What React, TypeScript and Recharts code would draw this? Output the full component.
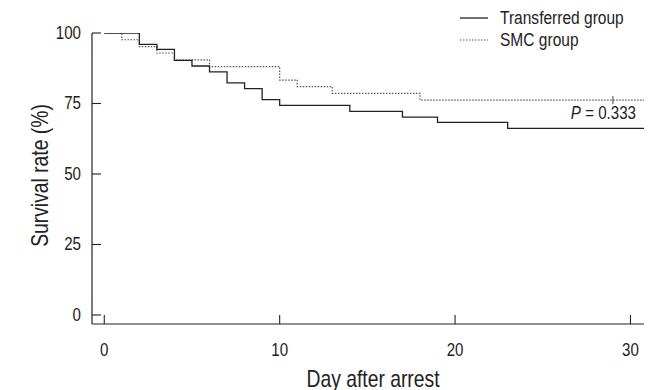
import React from 'react';
import { ComposedChart, Line, XAxis, YAxis, Scatter, Label } from 'recharts';

const transferredDays = [0, 2, 3, 4, 5, 6, 7, 8, 9, 10, 14, 17, 19, 23, 31];
const transferredSurvival = [100, 96, 94.2, 90.3, 88.3, 86.2, 82.3, 80.3, 76.4, 74.3, 72.2, 70.2, 68.3, 66.2, 66.2];
const smcDays = [0, 1, 2, 3, 4, 6, 10, 11, 13, 18, 31];
const smcSurvival = [100, 97.6, 95.2, 92.9, 90.5, 88.1, 83.3, 81.0, 78.6, 76.2, 76.2];
const censorDays = [29];
const censorSurvival = [76.2];
const xTicks = [0, 10, 20, 30];
const yTicks = [0, 25, 50, 75, 100];
const seriesNames = ['Transferred group', 'SMC group'];
const pValueText = '0.333';

const FONT = "'Liberation Sans', Arial, sans-serif";
const SX = 0.84;
const INK = '#222';

const transferredData = transferredDays.map((d, i) => ({ day: d, s: transferredSurvival[i] }));
const smcData = smcDays.map((d, i) => ({ day: d, s: smcSurvival[i] }));
const censorData = censorDays.map((d, i) => ({ day: d, s: censorSurvival[i] }));

const NText = (props: any) => {
  const { x, y, size, anchor = 'start', rotate = 0, children, italic } = props;
  return (
    <text
      x={0}
      y={0}
      transform={`translate(${x} ${y}) rotate(${rotate}) scale(${SX} 1)`}
      textAnchor={anchor}
      dominantBaseline="central"
      fontFamily={FONT}
      fontSize={size}
      fontStyle={italic ? 'italic' : 'normal'}
      fill={INK}
    >
      {children}
    </text>
  );
};

const YTick = (props: any) => {
  const { x, y, payload } = props;
  return (
    <g>
      <line x1={x} x2={x + 9} y1={y} y2={y} stroke={INK} strokeWidth={1.1} />
      <NText x={x - 11} y={y} size={18} anchor="end">{payload.value}</NText>
    </g>
  );
};

const XTick = (props: any) => {
  const { x, y, payload } = props;
  return (
    <g>
      <line x1={x} x2={x} y1={y} y2={y - 9} stroke={INK} strokeWidth={1.1} />
      <NText x={x} y={y + 26} size={18} anchor="middle">{payload.value}</NText>
    </g>
  );
};

const CensorMark = (props: any) => {
  const { cx, cy } = props;
  return <line x1={cx} x2={cx} y1={cy - 4} y2={cy + 4} stroke="#444" strokeWidth={1} />;
};

export default function App() {
  return (
    <div style={{ position: 'relative', width: 644, height: 382 }}>
      <ComposedChart width={644} height={382} margin={{ top: 25, right: 4, left: 0, bottom: 0 }}>
        <XAxis
          type="number"
          dataKey="day"
          domain={[-0.7, 31]}
          ticks={xTicks}
          allowDataOverflow
          height={66}
          tickSize={0}
          tickMargin={0}
          tickLine={false}
          axisLine={{ stroke: INK, strokeWidth: 1.2 }}
          tick={<XTick />}
        >
          <Label
            content={(p: any) => {
              const vb = p.viewBox;
              return (
                <NText x={vb.x + vb.width / 2 + 3} y={vb.y + 55} size={23} anchor="middle">
                  Day after arrest
                </NText>
              );
            }}
          />
        </XAxis>
        <YAxis
          type="number"
          dataKey="s"
          domain={[-3.2, 100]}
          ticks={yTicks}
          allowDataOverflow
          width={84}
          tickSize={0}
          tickMargin={0}
          tickLine={false}
          axisLine={{ stroke: INK, strokeWidth: 1.2 }}
          tick={<YTick />}
        >
          <Label
            content={(p: any) => {
              const vb = p.viewBox;
              return (
                <NText x={vb.x + 32} y={vb.y + vb.height / 2 - 3} size={23} anchor="middle" rotate={-90}>
                  Survival rate (%)
                </NText>
              );
            }}
          />
        </YAxis>
        <Line
          data={smcData}
          dataKey="s"
          name={seriesNames[1]}
          type="stepAfter"
          stroke="#555"
          strokeWidth={1.2}
          strokeDasharray="1.5 1.5"
          dot={false}
          isAnimationActive={false}
        />
        <Line
          data={transferredData}
          dataKey="s"
          name={seriesNames[0]}
          type="stepAfter"
          stroke={INK}
          strokeWidth={1.3}
          dot={false}
          isAnimationActive={false}
        />
        <Scatter data={censorData} dataKey="s" shape={<CensorMark />} isAnimationActive={false} legendType="none" />
      </ComposedChart>
      <svg width={644} height={382} style={{ position: 'absolute', left: 0, top: 0, pointerEvents: 'none' }}>
        <line x1={452} x2={480} y1={10} y2={10} stroke={INK} strokeWidth={1.3} />
        <NText x={492} y={10} size={18.5}>{seriesNames[0]}</NText>
        <line x1={452} x2={480} y1={32} y2={32} stroke="#555" strokeWidth={1.2} strokeDasharray="1.5 1.5" />
        <NText x={492} y={32} size={18.5}>{seriesNames[1]}</NText>
        <text
          x={0}
          y={0}
          transform={`translate(628 105) scale(${SX} 1)`}
          textAnchor="end"
          dominantBaseline="central"
          fontFamily={FONT}
          fontSize={18}
          fill={INK}
        >
          <tspan fontStyle="italic">P</tspan>
          <tspan> = {pValueText}</tspan>
        </text>
      </svg>
    </div>
  );
}
